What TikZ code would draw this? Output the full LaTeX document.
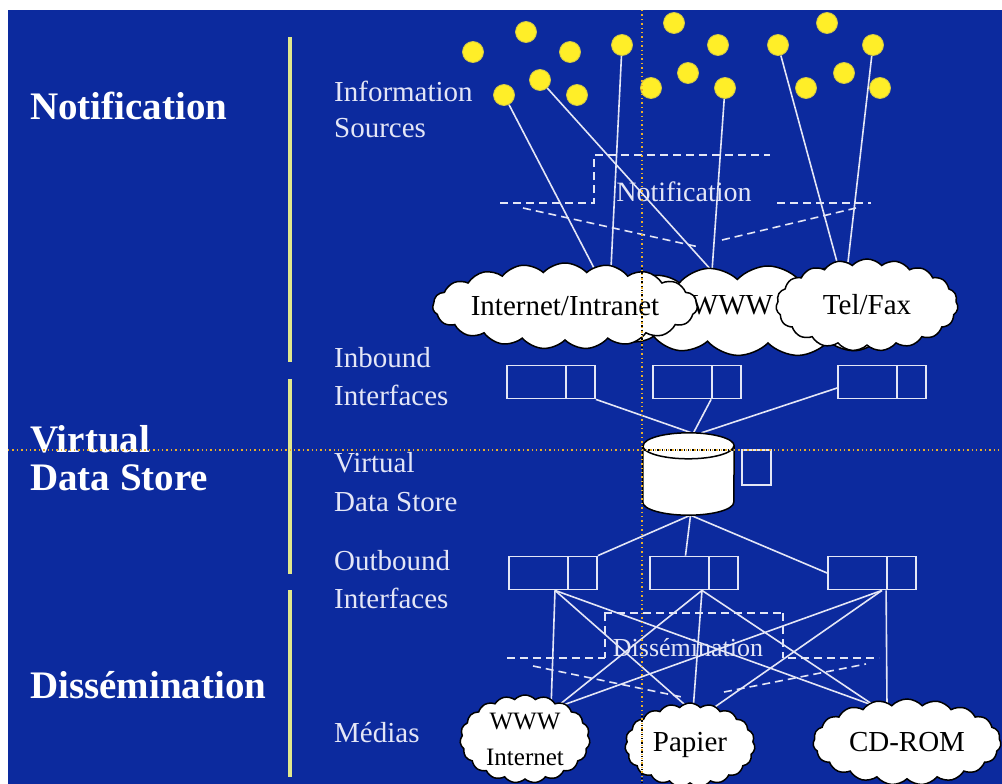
\documentclass[tikz,border=0pt]{standalone}
\usepackage{fontspec}
\setmainfont{Liberation Serif}
\usetikzlibrary{shapes.symbols,calc}
\pgfdeclarelayer{bgl}
\pgfdeclarelayer{wires}
\pgfsetlayers{bgl,wires,main}
\definecolor{bgblue}{RGB}{12,42,158}
\definecolor{dotyel}{RGB}{255,238,40}
\definecolor{dotedge}{RGB}{210,200,70}
\definecolor{barcol}{RGB}{225,232,140}
\definecolor{guide}{RGB}{235,175,40}
\definecolor{linew}{RGB}{228,230,246}
\begin{document}
\begin{tikzpicture}[x=1pt,y=-1pt,
  biglab/.style={text=white, font=\fontsize{39}{44}\selectfont\bfseries, inner sep=0, anchor=base west},
  lab/.style={text=linew, font=\fontsize{29}{33}\selectfont, inner sep=0, anchor=base west},
  srcdot/.style={circle, fill=dotyel, draw=dotedge, line width=0.8, minimum size=21, inner sep=0},
  wire/.style={draw=linew, line width=1.6},
  planedash/.style={draw=linew, line width=1.6, dash pattern=on 8pt off 5pt},
  cloudn/.style={cloud, cloud puffs=19, cloud puff arc=95, cloud ignores aspect, draw=black, line width=1.5, fill=white, inner sep=0, text=black, font=\fontsize{29}{33}\selectfont},
  ibox/.style={draw=linew, line width=1.8, minimum height=33, inner sep=0},
  bar/.style={draw=barcol, line width=4},
  guideline/.style={draw=guide, line width=1.4, dash pattern=on 1.4pt off 3pt},
  guideblk/.style={draw=black, line width=1.4, dash pattern=on 1.4pt off 3pt}
]
\useasboundingbox (0,0) rectangle (1002,784);
\begin{pgfonlayer}{bgl}
  \fill[white] (0,0) rectangle (1002,784);
  \fill[bgblue] (8,10) rectangle (1002,784);
\end{pgfonlayer}

% section bars
\draw[bar] (289.5,37) -- (289.5,362);
\draw[bar] (289.5,379) -- (289.5,574);
\draw[bar] (289.5,590) -- (289.5,777);

% left titles
\node[biglab] (tnotif) at (30,119) {Notification};
\node[biglab] (tvirt) at (30,452) {Virtual};
\node[biglab] (tdata) at (30,490) {Data Store};
\node[biglab] (tdiss) at (30,698) {Diss\'emination};

% row labels
\node[lab] (linfo) at (334,102) {Information};
\node[lab] (lsrc) at (334,137) {Sources};
\node[lab] (linb) at (334,367) {Inbound};
\node[lab] (linbi) at (334,405) {Interfaces};
\node[lab] (lvirt) at (334,472) {Virtual};
\node[lab] (lvds) at (334,511) {Data Store};
\node[lab] (lout) at (334,570) {Outbound};
\node[lab] (louti) at (334,608) {Interfaces};
\node[lab] (lmed) at (334,742) {M\'edias};

% information sources
\node[srcdot] (d1) at (473,52) {};
\node[srcdot] (d2) at (526,32) {};
\node[srcdot] (d3) at (570,52) {};
\node[srcdot] (d4) at (622,45) {};
\node[srcdot] (d5) at (504,95) {};
\node[srcdot] (d6) at (540,80) {};
\node[srcdot] (d7) at (577,95) {};
\node[srcdot] (d8) at (651,88) {};
\node[srcdot] (d9) at (674,23) {};
\node[srcdot] (d10) at (688,73) {};
\node[srcdot] (d11) at (718,45) {};
\node[srcdot] (d12) at (725,88) {};
\node[srcdot] (d13) at (778,45) {};
\node[srcdot] (d14) at (806,88) {};
\node[srcdot] (d15) at (827,23) {};
\node[srcdot] (d16) at (844,73) {};
\node[srcdot] (d17) at (873,45) {};
\node[srcdot] (d18) at (880,88) {};

% notification plane
\node[text=linew, font=\fontsize{28}{32}\selectfont, inner sep=0] (pnotif) at (684,192) {Notification};

% network clouds
\node[cloudn, minimum width=372, minimum height=90] (wwwc) at (768,311) {};
\node[text=black, font=\fontsize{29}{33}\selectfont, inner sep=0] (wwwt) at (732,305) {WWW};
\node[cloudn, minimum width=244, minimum height=86] (inet) at (565,306) {Internet/Intranet};
\node[cloudn, minimum width=182, minimum height=92] (tf) at (867,305) {Tel/Fax};

% inbound interfaces
\node[ibox, minimum width=59] (in1L) at (536.5,382) {};
\node[ibox, minimum width=29] (in1R) at (580.5,382) {};
\node[ibox, minimum width=59] (in2L) at (682.5,382) {};
\node[ibox, minimum width=29] (in2R) at (726.5,382) {};
\node[ibox, minimum width=59] (in3L) at (867.5,382) {};
\node[ibox, minimum width=29] (in3R) at (911.5,382) {};

% virtual data store
\node[inner sep=0, minimum width=91, minimum height=82] (vds) at (688.5,474) {};
\draw[fill=white, draw=black, line width=1.5]
  ($(vds.north west)+(0,13)$) -- ($(vds.south west)+(0,-13)$)
  arc[start angle=180, end angle=0, x radius=45.5, y radius=13]
  -- ($(vds.north east)+(0,13)$)
  arc[start angle=0, end angle=-180, x radius=45.5, y radius=13] -- cycle;
\draw[draw=black, line width=1.5] ($(vds.north west)+(0,13)$)
  arc[start angle=180, end angle=0, x radius=45.5, y radius=13];
\node[ibox, minimum width=29, minimum height=35] (vdsbox) at (756.5,467.5) {};

% outbound interfaces
\node[ibox, minimum width=59] (out1L) at (538.5,573) {};
\node[ibox, minimum width=29] (out1R) at (582.5,573) {};
\node[ibox, minimum width=59] (out2L) at (679.5,573) {};
\node[ibox, minimum width=29] (out2R) at (723.5,573) {};
\node[ibox, minimum width=59] (out3L) at (857.5,573) {};
\node[ibox, minimum width=29] (out3R) at (901.5,573) {};

% dissemination plane label
\node[text=linew, font=\fontsize{26}{30}\selectfont, inner sep=0] (pdiss) at (688,648) {Diss\'emination};

% media clouds
\node[cloudn, minimum width=130, minimum height=88, align=center, font=\fontsize{25}{36}\selectfont] (www) at (525,739) {WWW\\Internet};
\node[cloudn, minimum width=130, minimum height=84] (pap) at (690,745) {Papier};
\node[cloudn, minimum width=188, minimum height=86] (cd) at (907,742) {CD-ROM};

\begin{pgfonlayer}{wires}
  % sources to networks
  \draw[wire] (d5) -- ($(inet)+(29,-38)$);
  \draw[wire] (d4) -- ($(inet)+(46,-38)$);
  \draw[wire] (d6) -- ($(wwwc)+(-56,-40)$);
  \draw[wire] (d12) -- ($(wwwc)+(-56,-40)$);
  \draw[wire] (d13) -- ($(tf)+(-30,-43)$);
  \draw[wire] (d17) -- ($(tf)+(-19,-43)$);
  % notification plane
  \draw[planedash] (500,203) -- (594,203) -- (594,155) -- (770,155);
  \draw[planedash] (777,203) -- (871,203);
  \draw[planedash] (523,208) -- (699,247);
  \draw[planedash] (722,240) -- (856,208);
  % inbound to store
  \draw[wire] (in1R.south east) -- ($(vds.north)+(3,0)$);
  \draw[wire] (in2R.south west) -- ($(vds.north)+(5,0)$);
  \draw[wire] ($(in3L.west)+(0,6)$) -- ($(vds.north)+(13,0)$);
  % store to outbound
  \draw[wire] ($(vds.south)+(2,0)$) -- (out1R.north east);
  \draw[wire] ($(vds.south)+(2,0)$) -- ($(out2L.north)+(6,0)$);
  \draw[wire] ($(vds.south)+(2,0)$) -- (out3L.west);
  % outbound to media
  \draw[wire] ($(out1L.south)+(16.5,0)$) -- ($(www)+(26,-30)$);
  \draw[wire] ($(out1L.south)+(16.5,0)$) -- ($(pap)+(2,-34)$);
  \draw[wire] ($(out1L.south)+(16.5,0)$) -- ($(cd)+(-32,-36)$);
  \draw[wire] ($(out2L.south)+(22.5,0)$) -- ($(www)+(29,-30)$);
  \draw[wire] ($(out2L.south)+(22.5,0)$) -- ($(pap)+(3,-34)$);
  \draw[wire] ($(out2L.south)+(22.5,0)$) -- ($(cd)+(-32,-36)$);
  \draw[wire] ($(out3L.south)+(24.5,0)$) -- ($(www)+(27,-30)$);
  \draw[wire] ($(out3L.south)+(24.5,0)$) -- ($(pap)+(19,-34)$);
  \draw[wire] (out3R.south west) -- ($(cd)+(-20,-36)$);
  % dissemination plane
  \draw[planedash] (604,613) -- (783,613);
  \draw[planedash] (605,613) -- (605,658);
  \draw[planedash] (783,613) -- (783,658);
  \draw[planedash] (507,658) -- (605,658);
  \draw[planedash] (788,658) -- (879,658);
  \draw[planedash] (533,666) -- (682,697);
  \draw[planedash] (724,692) -- (866,664);
\end{pgfonlayer}

% guide lines
\draw[guideline] (642,10) -- (642,784);
\draw[guideline] (8,450) -- (1002,450);
\draw[guideblk] (642,268) -- (642,348);
\draw[guideblk] (642,716) -- (642,784);
\draw[guideblk] (644,450) -- (733,450);
\end{tikzpicture}
\end{document}
